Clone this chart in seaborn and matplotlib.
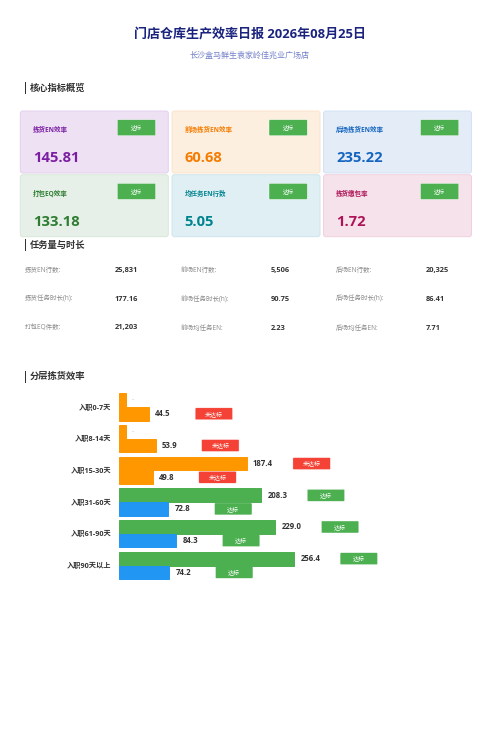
import pandas as pd
import matplotlib
matplotlib.use("Agg")
import matplotlib.pyplot as plt
from matplotlib.patches import FancyBboxPatch, Rectangle
import seaborn as sns

# --- Data ---
TITLE = "门店仓库生产效率日报 2026年08月25日"
SUBTITLE = "长沙盒马鲜生袁家岭佳兆业广场店"

card_labels = ["拣货EN效率", "前场拣货EN效率", "后场拣货EN效率", "打包EQ效率", "均任务EN行数", "拣货缴包率"]
card_values = ["145.81", "60.68", "235.22", "133.18", "5.05", "1.72"]
card_fill = ["#eee1f4", "#fdefe0", "#e3ecf7", "#e7f0e8", "#e0eff3", "#f6e2eb"]
card_edge = ["#e3d0ec", "#fbe3cb", "#d3e2f4", "#d8e7d9", "#cfe5ea", "#f0d0de"]
card_text = ["#7b1fa2", "#f57c00", "#1565c0", "#2e7d32", "#00838f", "#ad1457"]

table_labels = [
    ["拣货EN行数:", "前场EN行数:", "后场EN行数:"],
    ["拣货任务时长(h):", "前场任务时长(h):", "后场任务时长(h):"],
    ["打包EQ件数:", "前场均任务EN:", "后场均任务EN:"],
]
table_values = [
    ["25,831", "5,506", "20,325"],
    ["177.16", "90.75", "86.41"],
    ["21,203", "2.23", "7.71"],
]

tiers = ["入职0-7天", "入职8-14天", "入职15-30天", "入职31-60天", "入职61-90天", "入职90天以上"]
# the first two tiers have no back-of-store value, the picture shows a stub and "-"
top_values = [10.5, 10.5, 187.4, 208.3, 229.0, 256.4]
top_labels = ["-", "-", "187.4", "208.3", "229.0", "256.4"]
top_status = [None, None, "未达标", "达标", "达标", "达标"]
bottom_values = [44.5, 53.9, 49.8, 72.8, 84.3, 74.2]
bottom_labels = ["44.5", "53.9", "49.8", "72.8", "84.3", "74.2"]
bottom_status = ["未达标", "未达标", "未达标", "达标", "达标", "达标"]

ORANGE = "#ff9800"
GREEN = "#4caf50"
BLUE = "#2196f3"
RED = "#f44336"

# --- Setup ---
sns.set_theme(style="white")
plt.rcParams["font.family"] = ["Open Sans", "Noto Sans CJK SC", "DejaVu Sans"]

fig = plt.figure(figsize=(5, 7.49), dpi=100, facecolor="white")
page = fig.add_axes([0, 0, 1, 1])
page.set_xlim(0, 500)
page.set_ylim(749, 0)
page.axis("off")


def badge(x, y, w, h, text, color, size):
    page.add_patch(FancyBboxPatch((x + 1, y + 1), w - 2, h - 2, boxstyle="round,pad=1,rounding_size=1",
                                  fc=color, ec="#ffffff", lw=0.3, zorder=5))
    page.text(x + w / 2, y + h / 2, text, color="white", fontsize=size, ha="center", va="center", zorder=6)


def section(y, text):
    page.add_patch(Rectangle((24.5, y - 6), 1.6, 12, fc="#333333", ec="none"))
    page.text(30, y, text, fontsize=6.7, fontweight="bold", color="#333333", va="center")


# --- Header ---
page.text(250, 35, TITLE, fontsize=9.4, fontweight="bold", color="#1a237e", ha="center", va="center")
page.text(250, 55.5, SUBTITLE, fontsize=5.8, color="#5c6bc0", ha="center", va="center", alpha=0.85)

# --- Cards ---
section(88, "核心指标概览")
card_x = [20.3, 172, 323.5]
card_y = [111, 174.7]
for i, (label, value) in enumerate(zip(card_labels, card_values)):
    x = card_x[i % 3]
    y = card_y[i // 3]
    page.add_patch(FancyBboxPatch((x + 2.5, y + 2.5), 148 - 5, 62 - 5, boxstyle="round,pad=2.5,rounding_size=2.5",
                                  fc=card_fill[i], ec=card_edge[i], lw=0.7))
    page.text(x + 12.7, y + 19.7, label, fontsize=4.7, fontweight="bold", color=card_text[i], va="center")
    page.text(x + 12.7, y + 47.5, value, fontsize=10.6, fontweight="bold", color=card_text[i], va="center")
    badge(x + 97, y + 8.7, 38.3, 16, "达标", GREEN, 4)

# --- Table ---
section(245, "任务量与时长")
col_label_x = [25, 180.5, 336]
col_value_x = [115, 270.5, 426]
row_y = [270.7, 299.2, 328]
for r in range(3):
    for c in range(3):
        page.text(col_label_x[c], row_y[r], table_labels[r][c], fontsize=4.7, color="#8a8a8a", va="center")
        page.text(col_value_x[c], row_y[r], table_values[r][c], fontsize=5.3, fontweight="bold",
                  color="#333333", va="center")

# --- Tier chart ---
section(376.7, "分层拣货效率")

df = pd.DataFrame({
    "tier": tiers * 2,
    "value": top_values + bottom_values,
    "series": ["top"] * len(tiers) + ["bottom"] * len(tiers),
})

# axes box in page pixels: value 0 sits at x=118.7, tier pitch is 31.7 px
ax = fig.add_axes([118.7 / 500, 1 - 581.35 / 749, 381.3 / 500, 190.2 / 749])
ax.patch.set_alpha(0)
sns.barplot(data=df, y="tier", x="value", hue="series", hue_order=["top", "bottom"], order=tiers,
            orient="h", width=0.86, gap=0, legend=False, linewidth=0.7, ax=ax)
ax.set_xlim(0, 381.3 / 0.684)
ax.set_ylim(5.5, -0.5)
ax.set_xlabel("")
ax.set_ylabel("")
ax.set_xticks([])
ax.tick_params(axis="y", length=0, pad=5.5, labelsize=5.2, labelcolor="#333333")
for tick in ax.get_yticklabels():
    tick.set_fontweight("bold")
sns.despine(ax=ax, left=True, bottom=True)


def bar_color(status, on_target):
    return on_target if status == "达标" else ORANGE


series_info = [
    (ax.containers[0], top_values, top_labels, top_status, GREEN),
    (ax.containers[1], bottom_values, bottom_labels, bottom_status, BLUE),
]
for bars, values, labels, statuses, on_target in series_info:
    for bar, value, label, status in zip(bars, values, labels, statuses):
        color = bar_color(status, on_target)
        bar.set_facecolor(color)
        bar.set_edgecolor(color)
        mid = bar.get_y() + bar.get_height() / 2
        px, py = page.transData.inverted().transform(ax.transData.transform((value, mid)))
        if status is None:
            page.text(px + 5.5, py - 0.5, label, fontsize=4.6, color="#aaaaaa", va="center", zorder=6)
            continue
        page.text(px + 6.2, py, label, fontsize=5.6, fontweight="bold", color="#333333", va="center", zorder=6)
        badge(px + 46, py - 6, 37.5, 12, status, GREEN if status == "达标" else RED, 4.3)

fig.savefig("out.png", dpi=100)
